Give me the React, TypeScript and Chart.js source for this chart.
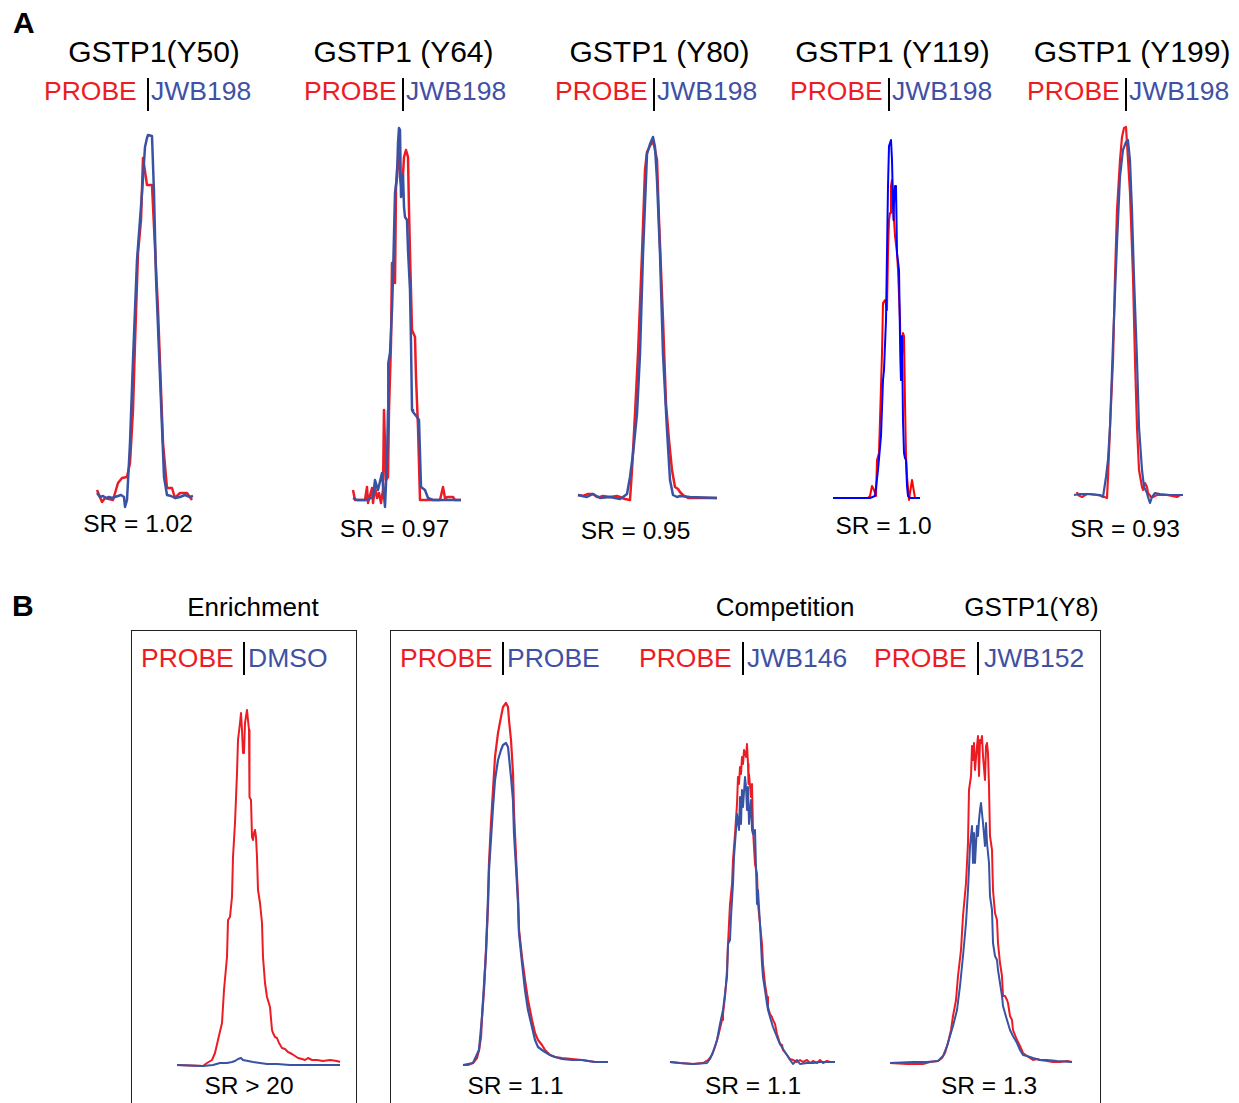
import React, { useEffect, useRef } from "react";
import { Chart, registerables } from "chart.js";

Chart.register(...registerables);

type Pt = [number, number];

// ---- colours ----
const RED = "#ed1c24";
const BLUE = "#3953a4";
const PURE_RED = "#ff0000";
const PURE_BLUE = "#0000ff";
const TXT_BLUE = "#3f51a5";

// ---- Panel A: GSTP1 sites, PROBE vs JWB198 (scan, relative intensity) ----
const y50Probe: Pt[] = [[2,7],[7,-5],[10,-1],[18,-3],[23,14],[27,19],[32,20],[35,34],[38,87],[40,154],[43,244],[46,277],[48,339],[52,312],[57,312],[63,187],[68,54],[72,9],[77,9],[80,-1],[85,4],[92,4],[97,-3]];
const y50Jwb198: Pt[] = [[2,4],[5,0],[8,1],[11,-1],[14,0],[17,-1],[20,0],[23,1],[26,2],[29,0],[30,-10],[32,-3],[35,54],[38,137],[42,237],[47,304],[50,350],[52,359],[53,362],[57,361],[59,304],[61,220],[65,120],[69,20],[72,2],[76,1],[80,-1],[85,0],[90,2],[95,0],[98,1]];

const y64Probe: Pt[] = [[13,10],[15,0],[25,0],[27,13],[28,-3],[32,12],[33,-3],[35,13],[37,2],[39,7],[41,-3],[43,10],[44,90],[46,20],[48,23],[49,90],[51,157],[52,237],[54,237],[55,217],[56,313],[57,330],[59,347],[60,323],[62,308],[64,343],[66,350],[68,343],[69,290],[70,247],[72,170],[75,163],[76,123],[78,73],[80,0],[100,0],[103,13],[105,2],[108,3],[113,3],[115,0],[121,0]];
const y64Jwb198: Pt[] = [[13,2],[17,0],[27,0],[33,3],[35,20],[38,10],[42,27],[45,-7],[47,40],[48,90],[48.3,137],[50,147],[52,190],[53,223],[55,307],[57,323],[58,357],[59,372],[60,370],[61,303],[62,305],[63,325],[64,293],[65,283],[67,280],[68,250],[70,210],[71,157],[72,90],[73,88],[77,83],[79,80],[81,13],[85,10],[88,2],[93,0],[121,0]];

const y80Probe: Pt[] = [[8,2],[13,1],[18,3],[23,3],[27,0],[30,0],[33,1],[40,0],[47,1],[50,0],[55,-2],[60,-3],[62,27],[65,83],[68,143],[72,243],[75,327],[77,345],[82,355],[84,352],[87,337],[89,277],[93,177],[96,93],[99,57],[102,27],[105,10],[108,8],[110,5],[113,2],[118,-1],[147,-1]];
const y80Jwb198: Pt[] = [[8,2],[17,0],[23,3],[30,-1],[40,0],[50,-2],[53,0],[57,3],[60,20],[63,43],[67,83],[70,143],[73,243],[77,343],[80,353],[83,360],[85,350],[87,317],[90,243],[93,143],[97,67],[100,17],[103,2],[107,0],[110,1],[120,0],[147,-1]];

const y119Probe: Pt[] = [[13,0],[48,0],[50,2],[52,12],[54,8],[56,2],[57,38],[59,45],[62,145],[63,195],[65,198],[67,188],[68,245],[69,278],[70,285],[71,312],[72,318],[73,295],[74,278],[75,262],[77,245],[78,228],[80,178],[81,118],[83,165],[84,162],[85,95],[86,42],[87,22],[89,-2],[90,5],[92,18],[93,12],[95,0],[98,0]];
const y119Jwb198: Pt[] = [[13,0],[50,0],[55,2],[58,28],[61,62],[63,118],[64,128],[66,178],[67,245],[68,312],[69,352],[71,358],[72,338],[73,295],[73.5,278],[74,295],[75,312],[76,312],[77,245],[79,228],[80,162],[81,118],[82,162],[83,78],[84,45],[85,40],[86,38],[87,12],[88,2],[90,0],[100,0]];

const y199Probe: Pt[] = [[17,3],[18,0],[22,-2],[27,1],[37,0],[42,-1],[47,-3],[48,18],[50,68],[53,135],[55,218],[57,285],[60,335],[62,358],[64,367],[66,368],[67,352],[70,302],[73,218],[75,135],[77,68],[79,25],[82,8],[83,5],[85,12],[87,8],[88,2],[91,-2],[93,-2],[97,0],[107,0],[117,-2],[120,0]];
const y199Jwb198: Pt[] = [[14,0],[20,1],[30,1],[40,0],[43,-2],[46,18],[48,35],[50,68],[53,152],[57,252],[60,318],[63,345],[66,353],[68,355],[70,335],[72,285],[74,218],[77,135],[79,68],[82,25],[84,8],[87,2],[88,-2],[90,-8],[92,-2],[95,2],[100,1],[110,0],[123,0]];

// ---- Panel B: GSTP1(Y8) enrichment / competition ----
const y8EnrichProbe: Pt[] = [[7,0],[33,-1],[37,2],[42,5],[45,12],[48,25],[52,42],[54,75],[57,108],[58,145],[60,148],[62,168],[63,208],[65,242],[67,292],[68,325],[70,342],[71,352],[72,335],[73,312],[74,312],[75,342],[77,355],[78,345],[79,335],[79.5,268],[81,265],[82,228],[83,225],[84,232],[85,235],[86,228],[87,208],[88,175],[90,162],[92,142],[93,108],[95,82],[97,68],[100,58],[102,35],[103,32],[105,28],[107,27],[109,22],[112,17],[115,16],[118,13],[122,11],[125,9],[128,7],[132,6],[135,5],[138,7],[142,5],[147,5],[153,4],[160,5],[167,4],[170,3]];
const y8EnrichDmso: Pt[] = [[7,0],[33,-1],[43,0],[50,2],[57,2],[62,3],[65,4],[68,6],[71,7],[73,5],[78,4],[83,3],[90,2],[97,1],[107,1],[120,0],[140,0],[170,0]];

const y8ProbeRed: Pt[] = [[8,0],[13,0],[18,2],[22,7],[24,15],[26,28],[27,48],[29,75],[31,115],[33,158],[34,202],[36,242],[38,275],[40,308],[43,332],[46,348],[48,358],[51,362],[53,358],[54,345],[56,325],[58,292],[59,252],[61,208],[63,168],[64,135],[67,108],[70,85],[73,65],[77,45],[80,32],[83,25],[87,20],[90,15],[95,10],[100,8],[107,7],[117,6],[127,5],[140,3],[153,3]];
const y8ProbeBlue: Pt[] = [[8,0],[18,2],[24,15],[27,48],[31,112],[34,195],[38,258],[40,285],[43,305],[46,315],[48,320],[51,322],[53,318],[54,308],[56,288],[58,265],[59,232],[61,198],[63,162],[64,132],[67,102],[70,75],[73,55],[77,38],[80,25],[83,18],[87,15],[90,13],[95,10],[100,8],[107,6],[117,5],[127,5],[140,3],[153,3]];

const y8Jwb146Probe: Pt[] = [[10,0],[20,-1],[33,-2],[43,-1],[48,2],[52,7],[55,15],[58,25],[62,42],[63,48],[65,65],[67,92],[68,118],[70,158],[72,178],[73,202],[75,228],[77,258],[78,285],[79,278],[80,295],[81,288],[82,305],[83,298],[84,312],[86,305],[87,318],[88,298],[88.5,278],[89,288],[91,265],[92,278],[93,232],[95,198],[97,188],[98,158],[100,138],[102,118],[103,98],[105,78],[107,65],[108,55],[110,48],[112,45],[113,42],[115,38],[117,28],[118,25],[120,18],[122,17],[123,12],[127,7],[130,3],[133,2],[137,0],[140,2],[143,0],[147,2],[150,-1],[153,1],[157,-1],[160,2],[163,-1],[167,1],[170,0],[175,0]];
const y8Jwb146Comp: Pt[] = [[10,0],[20,-1],[33,-2],[47,-1],[50,3],[53,10],[57,22],[60,38],[63,52],[67,85],[68,118],[70,122],[71,145],[73,178],[74,205],[76,232],[77,248],[79,232],[80,265],[81,238],[82,272],[83,255],[85,285],[86,275],[87,252],[88,275],[89,238],[91,262],[92,232],[93,228],[95,232],[97,158],[98,172],[100,138],[102,98],[103,85],[105,72],[107,58],[108,52],[110,45],[113,35],[117,25],[120,18],[123,13],[127,7],[130,2],[133,-2],[137,2],[140,-2],[147,-1],[153,-1],[160,0],[167,0],[175,0]];

const y8Jwb152Probe: Pt[] = [[10,0],[27,-1],[43,-1],[50,1],[58,2],[62,5],[65,10],[68,20],[71,33],[73,47],[76,63],[78,87],[81,113],[83,147],[86,180],[88,220],[89,273],[91,287],[92,317],[93,303],[94,320],[95,293],[97,317],[98,327],[99,287],[100,323],[101,320],[102,327],[103,307],[105,283],[106,317],[107,320],[108,310],[109,277],[110,227],[112,213],[113,173],[115,150],[117,143],[118,120],[120,100],[122,87],[123,67],[125,67],[127,63],[128,60],[130,47],[132,43],[133,33],[137,23],[140,17],[143,10],[147,7],[150,5],[153,3],[157,4],[160,3],[167,2],[173,1],[180,1],[187,2],[192,1]];
const y8Jwb152Comp: Pt[] = [[10,0],[33,1],[47,1],[58,2],[63,7],[67,17],[70,27],[73,37],[77,53],[80,77],[83,107],[86,140],[88,173],[90,217],[92,237],[93,200],[94,230],[95,200],[97,237],[98,227],[99,243],[100,253],[101,260],[102,250],[103,240],[105,217],[106,240],[107,220],[109,200],[110,167],[112,153],[113,120],[115,107],[117,103],[118,93],[120,80],[122,67],[123,57],[125,50],[127,43],[130,33],[133,27],[137,20],[140,13],[143,8],[147,7],[153,5],[160,3],[167,3],[177,2],[192,1]];

// ---- labels ----
const siteTitles = ["GSTP1(Y50)", "GSTP1 (Y64)", "GSTP1 (Y80)", "GSTP1 (Y119)", "GSTP1 (Y199)"];
const siteRatios = ["SR = 1.02", "SR = 0.97", "SR = 0.95", "SR = 1.0", "SR = 0.93"];
const bHeaders = ["Enrichment", "Competition", "GSTP1(Y8)"];
const bLeftLabels = ["PROBE", "PROBE", "PROBE", "PROBE"];
const bRightLabels = ["DMSO", "PROBE", "JWB146", "JWB152"];
const bRatios = ["SR > 20", "SR = 1.1", "SR = 1.1", "SR = 1.3"];

interface PanelCfg {
  probe: Pt[];
  comp: Pt[];
  red: string;
  blue: string;
  lw: number;
  left: number; top: number; width: number; height: number;
  xMin: number; xMax: number; yMin: number; yMax: number;
}

const panels: PanelCfg[] = [
  { probe: y50Probe, comp: y50Jwb198, red: RED, blue: BLUE, lw: 2.5, left: 93, top: 127, width: 102, height: 385, xMin: -2, xMax: 100, yMin: -15, yMax: 370 },
  { probe: y64Probe, comp: y64Jwb198, red: RED, blue: BLUE, lw: 2.5, left: 350, top: 120, width: 115, height: 390, xMin: 10, xMax: 125, yMin: -10, yMax: 380 },
  { probe: y80Probe, comp: y80Jwb198, red: RED, blue: BLUE, lw: 2.5, left: 575, top: 127, width: 145, height: 380, xMin: 5, xMax: 150, yMin: -10, yMax: 370 },
  { probe: y119Probe, comp: y119Jwb198, red: PURE_RED, blue: PURE_BLUE, lw: 2, left: 830, top: 128, width: 92, height: 380, xMin: 10, xMax: 102, yMin: -10, yMax: 370 },
  { probe: y199Probe, comp: y199Jwb198, red: RED, blue: BLUE, lw: 2.2, left: 1070, top: 120, width: 117, height: 387, xMin: 10, xMax: 127, yMin: -12, yMax: 375 },
  { probe: y8EnrichProbe, comp: y8EnrichDmso, red: RED, blue: BLUE, lw: 2, left: 173, top: 700, width: 170, height: 373, xMin: 3, xMax: 173, yMin: -8, yMax: 365 },
  { probe: y8ProbeRed, comp: y8ProbeBlue, red: RED, blue: BLUE, lw: 2.2, left: 460, top: 695, width: 152, height: 378, xMin: 5, xMax: 157, yMin: -8, yMax: 370 },
  { probe: y8Jwb146Probe, comp: y8Jwb146Comp, red: RED, blue: BLUE, lw: 2, left: 665, top: 732, width: 175, height: 338, xMin: 5, xMax: 180, yMin: -8, yMax: 330 },
  { probe: y8Jwb152Probe, comp: y8Jwb152Comp, red: RED, blue: BLUE, lw: 2, left: 885, top: 708, width: 190, height: 363, xMin: 5, xMax: 195, yMin: -8, yMax: 355 },
];

const FONT = '"Liberation Sans", Arial, Helvetica, sans-serif';

function Trace({ cfg }: { cfg: PanelCfg }) {
  const ref = useRef<HTMLCanvasElement>(null);
  useEffect(() => {
    if (!ref.current) return;
    const chart = new Chart(ref.current, {
      type: "line",
      data: {
        datasets: [
          {
            data: cfg.comp.map(([x, y]) => ({ x, y })),
            borderColor: cfg.blue,
            borderWidth: cfg.lw,
            pointRadius: 0,
            tension: 0,
            fill: false,
            clip: false as any,
            borderJoinStyle: "round",
          },
          {
            data: cfg.probe.map(([x, y]) => ({ x, y })),
            borderColor: cfg.red,
            borderWidth: cfg.lw,
            pointRadius: 0,
            tension: 0,
            fill: false,
            clip: false as any,
            borderJoinStyle: "round",
          },
        ],
      },
      options: {
        animation: false,
        responsive: false,
        maintainAspectRatio: false,
        events: [],
        layout: { padding: 0 },
        plugins: { legend: { display: false }, tooltip: { enabled: false } },
        scales: {
          x: { type: "linear", min: cfg.xMin, max: cfg.xMax, display: false },
          y: { type: "linear", min: cfg.yMin, max: cfg.yMax, display: false },
        },
      },
    });
    return () => chart.destroy();
  }, [cfg]);
  return (
    <canvas
      ref={ref}
      width={cfg.width}
      height={cfg.height}
      style={{ position: "absolute", left: cfg.left, top: cfg.top, width: cfg.width, height: cfg.height }}
    />
  );
}

function Txt(props: { x: number; cy: number; size: number; color?: string; bold?: boolean; center?: boolean; children: React.ReactNode }) {
  const { x, cy, size, color = "#000", bold, center, children } = props;
  return (
    <div
      style={{
        position: "absolute",
        left: x,
        top: cy - 0.49 * size,
        fontSize: size,
        lineHeight: `${size}px`,
        fontFamily: FONT,
        fontWeight: bold ? 700 : 400,
        color,
        whiteSpace: "nowrap",
        transform: center ? "translateX(-50%)" : undefined,
      }}
    >
      {children}
    </div>
  );
}

function Bar({ x, y1, y2 }: { x: number; y1: number; y2: number }) {
  return <div style={{ position: "absolute", left: x - 1, top: y1, width: 2, height: y2 - y1, background: "#000" }} />;
}

export default function App() {
  const titleCx = [154, 403.5, 659.5, 892.5, 1132];
  const probeLeft = [44, 304, 555, 790, 1027];
  const jwbLeft = [151, 406, 657, 892, 1129];
  const barX = [148, 403, 654, 889, 1126];
  const srCx = [138, 394.5, 635.5, 883.5, 1125];
  const srCy = [524, 529, 531, 526, 529];

  const bHeadCx = [253, 785, 1031.5];
  const bProbeLeft = [141, 400, 639, 874];
  const bRightLeft = [248, 507, 747, 984];
  const bBarX = [244, 503, 743, 978];
  const bSrCx = [249, 515.5, 753, 989];

  return (
    <div style={{ position: "absolute", left: 0, top: 0, width: 1239, height: 1103, overflow: "hidden", background: "#fff" }}>
      <Txt x={13} cy={22.5} size={30} bold>A</Txt>
      {siteTitles.map((t, i) => (
        <Txt key={"t" + i} x={titleCx[i]} cy={51.5} size={30} center>{t}</Txt>
      ))}
      {siteTitles.map((_, i) => (
        <React.Fragment key={"l" + i}>
          <Txt x={probeLeft[i]} cy={91} size={26.5} color={RED}>PROBE</Txt>
          <Bar x={barX[i]} y1={78} y2={111} />
          <Txt x={jwbLeft[i]} cy={91} size={26.5} color={TXT_BLUE}>JWB198</Txt>
        </React.Fragment>
      ))}
      {siteRatios.map((t, i) => (
        <Txt key={"s" + i} x={srCx[i]} cy={srCy[i]} size={24.5} center>{t}</Txt>
      ))}

      <Txt x={12} cy={606} size={30} bold>B</Txt>
      {bHeaders.map((t, i) => (
        <Txt key={"h" + i} x={bHeadCx[i]} cy={607} size={26} center>{t}</Txt>
      ))}
      <div style={{ position: "absolute", left: 131, top: 630, width: 224, height: 520, border: "1.5px solid #231f20" }} />
      <div style={{ position: "absolute", left: 390, top: 630, width: 709, height: 520, border: "1.5px solid #231f20" }} />
      {bLeftLabels.map((t, i) => (
        <React.Fragment key={"b" + i}>
          <Txt x={bProbeLeft[i]} cy={657.5} size={26.5} color={RED}>{t}</Txt>
          <Bar x={bBarX[i]} y1={642} y2={675} />
          <Txt x={bRightLeft[i]} cy={657.5} size={26.5} color={TXT_BLUE}>{bRightLabels[i]}</Txt>
        </React.Fragment>
      ))}
      {bRatios.map((t, i) => (
        <Txt key={"r" + i} x={bSrCx[i]} cy={1086} size={24.5} center>{t}</Txt>
      ))}

      {panels.map((p, i) => (
        <Trace key={"p" + i} cfg={p} />
      ))}
    </div>
  );
}
